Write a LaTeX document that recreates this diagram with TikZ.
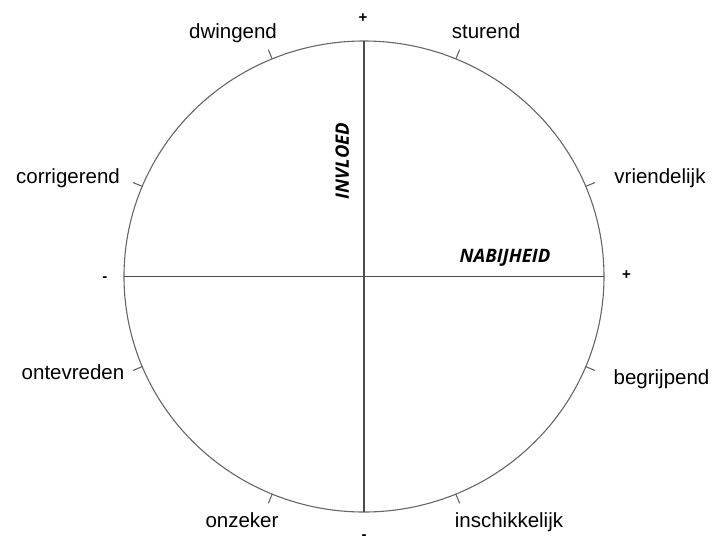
\documentclass[tikz,border=0pt]{standalone}
\usepackage{fontspec}
\setmainfont{Liberation Sans}
\newfontfamily\axisfont{Open Sans}
\begin{document}
\begin{tikzpicture}[x=1pt,y=1pt,
  rim/.style={draw=black!60,line width=1.1pt},
  axisline/.style={draw=black!70,line width=1.2pt},
  lbl/.style={anchor=base,inner sep=0pt,font=\fontsize{20.5}{24}\selectfont},
  sgn/.style={inner sep=0pt,font=\fontsize{15}{17}\selectfont\bfseries},
  axlbl/.style={anchor=base,inner sep=0pt,font=\axisfont\fontsize{18.5}{22}\selectfont\bfseries\itshape}]
\useasboundingbox (-364,-265.5) rectangle (349,276.5);
\draw[rim] (0,0) ellipse [x radius=240,y radius=235.5];
% axes
\coordinate (west) at (-240,0);
\coordinate (east) at (240,0);
\coordinate (north) at (0,235.5);
\coordinate (south) at (0,-235.5);
\draw[axisline] (west) -- (east);
\draw[axisline] (south) -- (north);
% ticks on the rim
\foreach \a [count=\i] in {22.5,67.5,...,337.5} {
  \coordinate (in\i) at ({240*cos(\a)},{235.5*sin(\a)});
  \coordinate (out\i) at ({250*cos(\a)},{245.5*sin(\a)});
  \draw[rim] (in\i) -- (out\i);
}
% labels
\node[lbl] (dwingend) at (-131,238.5) {dwingend};
\node[lbl] (sturend) at (122,238.5) {sturend};
\node[lbl] (corrigerend) at (-296,93.5) {corrigerend};
\node[lbl] (vriendelijk) at (296,93.5) {vriendelijk};
\node[lbl] (ontevreden) at (-291,-102.5) {ontevreden};
\node[lbl] (begrijpend) at (297.5,-107.5) {begrijpend};
\node[lbl] (onzeker) at (-122,-250.5) {onzeker};
\node[lbl] (inschikkelijk) at (145,-250.5) {inschikkelijk};
\node[axlbl] (nabijheid) at (141,14.5) {NABIJHEID};
\node[axlbl,rotate=90] (invloed) at (-15,115.5) {INVLOED};
% signs
\node[sgn] (plusN) at (-1,258.5) {+};
\node[sgn] (plusE) at (262.5,1.5) {+};
\node[sgn] (minW) at (-259,-2.5) {-};
\node[sgn] (minS) at (0,-261) {-};
\end{tikzpicture}
\end{document}
